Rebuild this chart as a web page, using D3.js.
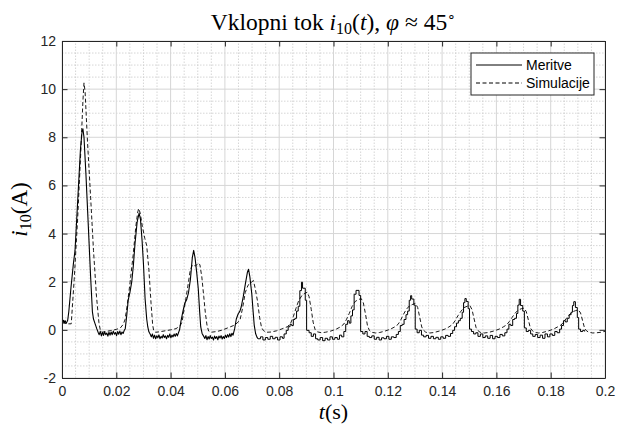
<!DOCTYPE html>
<html>
<head>
<meta charset="utf-8">
<script src="https://cdnjs.cloudflare.com/ajax/libs/d3/7.8.5/d3.min.js"></script>
<style>
  html, body { margin: 0; padding: 0; background: #fff; }
  svg { display: block; }
</style>
</head>
<body>
<script>
// tick positions and labels
const xTicks = [0, 0.02, 0.04, 0.06, 0.08, 0.1, 0.12, 0.14, 0.16, 0.18, 0.2];
const xTickLabels = ["0", "0.02", "0.04", "0.06", "0.08", "0.1", "0.12", "0.14", "0.16", "0.18", "0.2"];
const yTicks = [-2, 0, 2, 4, 6, 8, 10, 12];
const yTickLabels = ["-2", "0", "2", "4", "6", "8", "10", "12"];
const legendNames = ["Meritve", "Simulacije"];

// Meritve, first part (dense, noisy samples) [t, i]
const measA = [
  [0, 0.35], [0.0003, 0.28], [0.0006, 0.4], [0.0009, 0.3], [0.0012, 0.38], [0.0015, 0.27], [0.0018, 0.33], [0.0021, 0.4],
  [0.0025, 0.75], [0.0033, 1.75], [0.0042, 2.75], [0.0048, 3.3], [0.0058, 5.4], [0.0068, 7.5], [0.0074, 8.25], [0.0077, 8.35],
  [0.0081, 8.0], [0.0088, 6.5], [0.0097, 4.3], [0.0105, 2.3], [0.0112, 0.75], [0.0116, 0.45], [0.0122, 0.25], [0.0128, 0.05], [0.0133, -0.1],
  [0.0137, -0.2], [0.0141, -0.06], [0.0145, -0.25], [0.0149, -0.1], [0.0153, -0.23], [0.0157, -0.08], [0.0161, -0.2], [0.0165, -0.13],
  [0.0169, -0.26], [0.0173, -0.1], [0.0177, -0.22], [0.0181, -0.09], [0.0185, -0.2], [0.0189, -0.05], [0.0193, -0.18], [0.0197, -0.11],
  [0.0201, -0.24], [0.0205, -0.07], [0.0209, -0.18], [0.0213, -0.05], [0.0217, -0.2], [0.0221, -0.09], [0.0225, -0.15], [0.0229, -0.03],
  [0.0233, 0.05], [0.0238, 0.55], [0.0244, 1.25], [0.025, 1.55], [0.0257, 2.0], [0.0263, 2.7], [0.0269, 3.6], [0.0277, 4.5], [0.0284, 4.85],
  [0.0289, 4.6], [0.0295, 3.7], [0.03, 2.75], [0.0306, 1.3], [0.0312, 0.45], [0.0316, 0.12], [0.032, -0.08], [0.0325, -0.18],
  [0.0329, -0.29], [0.0333, -0.17], [0.0337, -0.35], [0.0341, -0.22], [0.0345, -0.37], [0.0349, -0.25], [0.0353, -0.33], [0.0357, -0.21],
  [0.0361, -0.37], [0.0365, -0.27], [0.0369, -0.34], [0.0373, -0.2], [0.0377, -0.32], [0.0381, -0.25], [0.0385, -0.37], [0.0389, -0.23],
  [0.0393, -0.31], [0.0397, -0.17], [0.0401, -0.33], [0.0405, -0.22], [0.0409, -0.29], [0.0413, -0.17], [0.0417, -0.27], [0.0421, -0.15],
  [0.0425, -0.25], [0.0429, -0.12],
  [0.0433, 0.0], [0.0438, 0.35], [0.0445, 0.75], [0.0452, 1.1], [0.0459, 1.25], [0.0466, 1.55], [0.0473, 2.1], [0.048, 3.0], [0.0485, 3.3],
  [0.049, 3.0], [0.0496, 2.4], [0.0502, 1.7], [0.0507, 0.75], [0.0511, 0.12], [0.0516, -0.15], [0.0522, -0.27],
  [0.0526, -0.36], [0.053, -0.24], [0.0534, -0.41], [0.0538, -0.28], [0.0542, -0.38], [0.0546, -0.24], [0.055, -0.36], [0.0554, -0.3],
  [0.0558, -0.42], [0.0562, -0.26], [0.0566, -0.36], [0.057, -0.28], [0.0574, -0.41], [0.0578, -0.26], [0.0582, -0.34], [0.0586, -0.24],
  [0.059, -0.38], [0.0594, -0.28], [0.0598, -0.36], [0.0602, -0.22], [0.0606, -0.32], [0.061, -0.2], [0.0614, -0.3], [0.0618, -0.16],
  [0.0622, -0.28], [0.0626, -0.14], [0.063, -0.22],
  [0.0636, 0.05], [0.0642, 0.45], [0.0649, 0.67], [0.0655, 0.77], [0.066, 0.95], [0.0668, 1.4], [0.0676, 1.95], [0.0683, 2.4], [0.0687, 2.52],
  [0.0692, 2.2], [0.0699, 1.5], [0.0704, 0.75], [0.0708, 0.2], [0.0713, -0.15], [0.0718, -0.3], [0.0722, -0.37]
];

// Meritve, second part (coarser, staircase samples) [t, i]
const measB = [
  [0.0722, -0.37], [0.0731, -0.29], [0.074, -0.42], [0.0749, -0.32], [0.0758, -0.39], [0.0767, -0.27], [0.0776, -0.37], [0.0785, -0.31],
  [0.0794, -0.42], [0.0803, -0.29], [0.0812, -0.35],
  [0.0818, -0.17], [0.0826, -0.02], [0.0833, 0.13], [0.084, 0.23], [0.0846, 0.18], [0.0852, 0.43], [0.0858, 0.48], [0.0864, 0.78],
  [0.087, 0.98], [0.0876, 1.63], [0.0882, 1.98], [0.0886, 1.73], [0.0896, 1.23], [0.0901, -0.02], [0.091, -0.12], [0.0918, -0.27],
  [0.0926, -0.17], [0.0934, -0.37],
  [0.0942, -0.42], [0.0951, -0.32], [0.096, -0.45], [0.0969, -0.35], [0.0978, -0.42], [0.0987, -0.29], [0.0996, -0.39], [0.1005, -0.32],
  [0.1014, -0.39], [0.1022, -0.22], [0.103, -0.29],
  [0.1038, -0.07], [0.1045, 0.23], [0.1052, 0.38], [0.1058, 0.28], [0.1064, 0.58], [0.107, 0.83], [0.1076, 1.48], [0.1083, 1.64],
  [0.1094, 1.43], [0.11, -0.07], [0.1108, -0.17], [0.1116, -0.07], [0.1124, -0.27],
  [0.1132, -0.32], [0.1141, -0.25], [0.115, -0.39], [0.1159, -0.31], [0.1168, -0.42], [0.1177, -0.33], [0.1186, -0.37], [0.1195, -0.27],
  [0.1204, -0.39], [0.1213, -0.29], [0.1222, -0.32], [0.1231, -0.19],
  [0.1239, -0.07], [0.1246, 0.18], [0.1253, 0.23], [0.126, 0.43], [0.1267, 0.63], [0.1273, 0.78], [0.1279, 1.23], [0.1284, 1.42],
  [0.1288, 1.28], [0.1296, 1.03], [0.1301, 0.03], [0.1308, -0.12], [0.1316, -0.02], [0.1324, -0.22],
  [0.1332, -0.29], [0.1341, -0.23], [0.135, -0.35], [0.1359, -0.27], [0.1368, -0.37], [0.1377, -0.31], [0.1386, -0.39], [0.1395, -0.29],
  [0.1404, -0.35], [0.1413, -0.23], [0.1422, -0.27], [0.1431, -0.15],
  [0.1439, -0.02], [0.1446, 0.13], [0.1453, 0.28], [0.146, 0.38], [0.1467, 0.48], [0.1474, 0.73], [0.1479, 1.13], [0.1484, 1.3],
  [0.1489, 1.18], [0.1496, 0.88], [0.1501, 0.03], [0.1508, -0.07], [0.1516, -0.17], [0.1524, -0.12],
  [0.1532, -0.27], [0.1541, -0.17], [0.155, -0.32], [0.1559, -0.25], [0.1568, -0.35], [0.1577, -0.23], [0.1586, -0.37], [0.1595, -0.27],
  [0.1604, -0.32], [0.1613, -0.19], [0.1622, -0.25], [0.1631, -0.12],
  [0.1639, 0.03], [0.1646, 0.23], [0.1653, 0.18], [0.166, 0.43], [0.1667, 0.48], [0.1674, 0.68], [0.1679, 1.03], [0.1684, 1.27],
  [0.1689, 1.01], [0.1697, 0.78], [0.1703, 0.08], [0.171, -0.07], [0.1718, -0.02], [0.1726, -0.17],
  [0.1734, -0.27], [0.1743, -0.19], [0.1752, -0.32], [0.1761, -0.22], [0.177, -0.35], [0.1779, -0.17], [0.1788, -0.29], [0.1797, -0.17],
  [0.1806, -0.23], [0.1815, -0.07], [0.1824, -0.12], [0.1833, 0.03],
  [0.184, 0.18], [0.1847, 0.38], [0.1854, 0.33], [0.1861, 0.48], [0.1868, 0.63], [0.1875, 0.73], [0.188, 1.01], [0.1885, 1.17],
  [0.1891, 0.93], [0.1898, 0.51], [0.1903, 0.03], [0.191, -0.07], [0.1918, -0.02], [0.1925, -0.07]
];

// Simulacije [t, i]
const sim = [
  [0, 0.3], [0.002, 0.25], [0.0034, 0.25], [0.0045, 2.1], [0.0058, 4.7], [0.007, 7.6], [0.0077, 9.5], [0.0081, 10.26], [0.0085, 9.9],
  [0.0094, 7.8], [0.0105, 5.6], [0.0116, 3.3], [0.0127, 1.4], [0.0136, 0.3], [0.0141, 0.0], [0.0148, -0.1], [0.016, -0.07], [0.018, -0.03],
  [0.02, 0.02], [0.0215, 0.08], [0.0225, 0.22], [0.0232, 0.42], [0.024, 1.0], [0.025, 1.9], [0.0262, 3.1], [0.0272, 4.3], [0.0279, 4.9],
  [0.0283, 5.04], [0.0288, 4.85], [0.0296, 4.3], [0.0305, 3.8], [0.0312, 3.5], [0.032, 2.5], [0.0328, 1.1], [0.0334, 0.2], [0.0338, -0.05],
  [0.0345, -0.1], [0.036, -0.08], [0.038, -0.04], [0.04, 0.0], [0.042, 0.05], [0.0435, 0.17], [0.0442, 0.32], [0.0452, 1.0], [0.0462, 1.7],
  [0.0472, 2.45], [0.048, 2.7], [0.0492, 2.65], [0.0502, 2.78], [0.0508, 2.7], [0.0515, 2.2], [0.0522, 1.4], [0.0528, 0.7], [0.0534, 0.2],
  [0.054, -0.05], [0.0548, -0.1], [0.057, -0.07], [0.059, -0.01], [0.061, 0.08], [0.0632, 0.18], [0.0645, 0.28], [0.0656, 0.42],
  [0.0665, 0.9], [0.0675, 1.55], [0.0685, 1.85], [0.0695, 1.95], [0.0705, 2.05], [0.0712, 1.7], [0.072, 1.2], [0.0728, 0.5], [0.0735, 0.1],
  [0.0742, -0.03], [0.0752, -0.1], [0.077, -0.09], [0.079, -0.04], [0.081, 0.04], [0.083, 0.13],
  [0.0842, 0.27], [0.0852, 0.55], [0.0862, 0.9], [0.0872, 1.22], [0.0885, 1.45], [0.0897, 1.53], [0.0903, 1.57], [0.091, 1.38],
  [0.0918, 0.85], [0.0925, 0.32], [0.0932, 0.02], [0.094, -0.08], [0.0955, -0.12], [0.097, -0.1], [0.099, -0.05], [0.101, 0.03], [0.1025, 0.12],
  [0.1038, 0.24], [0.1048, 0.44], [0.1058, 0.68], [0.1068, 0.96], [0.108, 1.18], [0.1092, 1.26], [0.1102, 1.3], [0.111, 1.12],
  [0.1118, 0.65], [0.1125, 0.18], [0.1132, -0.02], [0.114, -0.1], [0.1155, -0.13], [0.117, -0.11], [0.119, -0.05], [0.121, 0.03], [0.1225, 0.12],
  [0.1238, 0.23], [0.1248, 0.42], [0.1258, 0.65], [0.1268, 0.85], [0.128, 1.0], [0.1292, 1.06], [0.1302, 1.1], [0.131, 0.93],
  [0.1318, 0.5], [0.1325, 0.12], [0.1332, -0.02], [0.134, -0.1], [0.1355, -0.13], [0.137, -0.11], [0.139, -0.05], [0.141, 0.03], [0.1425, 0.12],
  [0.1438, 0.22], [0.1448, 0.38], [0.1458, 0.58], [0.1468, 0.75], [0.148, 0.92], [0.1492, 0.98], [0.1502, 1.01], [0.151, 0.85],
  [0.1518, 0.45], [0.1525, 0.1], [0.1532, -0.03], [0.154, -0.1], [0.1555, -0.13], [0.157, -0.11], [0.159, -0.05], [0.161, 0.03], [0.1625, 0.12],
  [0.1638, 0.21], [0.1648, 0.35], [0.1658, 0.52], [0.1668, 0.68], [0.168, 0.82], [0.1692, 0.88], [0.1702, 0.9], [0.171, 0.76],
  [0.1718, 0.4], [0.1725, 0.08], [0.1732, -0.03], [0.174, -0.1], [0.1755, -0.13], [0.177, -0.11], [0.179, -0.05], [0.181, 0.03], [0.1825, 0.12],
  [0.1838, 0.2], [0.1848, 0.33], [0.1858, 0.48], [0.1868, 0.62], [0.188, 0.75], [0.1892, 0.8], [0.1902, 0.83], [0.191, 0.7],
  [0.1918, 0.36], [0.1925, 0.06], [0.1932, -0.04], [0.194, -0.1], [0.1955, -0.13], [0.197, -0.12], [0.1985, -0.1], [0.2, -0.06]
];

// layout
const W = 617, H = 424;
const margin = { left: 62, right: 12, top: 41, bottom: 46 };
const axisColor = '#262626';
const tickFont = "'Liberation Sans', Arial, sans-serif";
const texFont = "'Liberation Serif', 'Times New Roman', serif";

const svg = d3.select('body').append('svg')
  .attr('width', W)
  .attr('height', H);

const x = d3.scaleLinear().domain([0, 0.2]).range([margin.left, W - margin.right]);
const y = d3.scaleLinear().domain([-2, 12]).range([H - margin.bottom, margin.top]);

// minor grid (dotted) then major grid (solid)
const xMinor = d3.range(0, 0.2001, 0.005).filter(v => Math.abs(v / 0.02 - Math.round(v / 0.02)) > 1e-6);
const yMinor = d3.range(-2, 12.001, 0.5).filter(v => Math.abs(v / 2 - Math.round(v / 2)) > 1e-6);

const grid = svg.append('g').attr('class', 'grid');
grid.selectAll('line.xmin').data(xMinor).enter().append('line')
  .attr('x1', d => x(d)).attr('x2', d => x(d))
  .attr('y1', y(-2)).attr('y2', y(12))
  .attr('stroke', '#cccccc').attr('stroke-width', 0.8).attr('stroke-dasharray', '1.5,1.5');
grid.selectAll('line.ymin').data(yMinor).enter().append('line')
  .attr('y1', d => y(d)).attr('y2', d => y(d))
  .attr('x1', x(0)).attr('x2', x(0.2))
  .attr('stroke', '#cccccc').attr('stroke-width', 0.8).attr('stroke-dasharray', '1.5,1.5');
grid.selectAll('line.xmaj').data(xTicks).enter().append('line')
  .attr('x1', d => x(d)).attr('x2', d => x(d))
  .attr('y1', y(-2)).attr('y2', y(12))
  .attr('stroke', '#d6d6d6').attr('stroke-width', 1);
grid.selectAll('line.ymaj').data(yTicks).enter().append('line')
  .attr('y1', d => y(d)).attr('y2', d => y(d))
  .attr('x1', x(0)).attr('x2', x(0.2))
  .attr('stroke', '#d6d6d6').attr('stroke-width', 1);

// clip for the curves
svg.append('defs').append('clipPath').attr('id', 'plotclip')
  .append('rect')
  .attr('x', x(0)).attr('y', y(12))
  .attr('width', x(0.2) - x(0)).attr('height', y(-2) - y(12));

const plot = svg.append('g').attr('clip-path', 'url(#plotclip)');

const lineLin = d3.line().x(d => x(d[0])).y(d => y(d[1]));
const lineStep = d3.line().x(d => x(d[0])).y(d => y(d[1])).curve(d3.curveStepAfter);

// Simulacije, dashed
plot.append('path')
  .attr('d', lineLin(sim))
  .attr('fill', 'none')
  .attr('stroke', '#000')
  .attr('stroke-width', 0.9)
  .attr('stroke-dasharray', '4,2.5');

// Meritve, solid
plot.append('path')
  .attr('d', lineLin(measA))
  .attr('fill', 'none')
  .attr('stroke', '#000')
  .attr('stroke-width', 1.1)
  .attr('stroke-linejoin', 'round');
plot.append('path')
  .attr('d', lineStep(measB))
  .attr('fill', 'none')
  .attr('stroke', '#000')
  .attr('stroke-width', 1);

// axes: ticks inward on all four sides
const tl = 5.5;
const axes = svg.append('g').attr('class', 'axes');
const axBottom = axes.append('g').attr('transform', `translate(0,${y(-2)})`)
  .call(d3.axisBottom(x).tickValues(xTicks).tickSizeInner(-tl).tickSizeOuter(0)
    .tickFormat((d, i) => xTickLabels[i]));
axes.append('g').attr('transform', `translate(0,${y(12)})`)
  .call(d3.axisTop(x).tickValues(xTicks).tickSizeInner(-tl).tickSizeOuter(0).tickFormat(''));
const axLeft = axes.append('g').attr('transform', `translate(${x(0)},0)`)
  .call(d3.axisLeft(y).tickValues(yTicks).tickSizeInner(-tl).tickSizeOuter(0)
    .tickFormat((d, i) => yTickLabels[i]));
axes.append('g').attr('transform', `translate(${x(0.2)},0)`)
  .call(d3.axisRight(y).tickValues(yTicks).tickSizeInner(-tl).tickSizeOuter(0).tickFormat(''));

axes.selectAll('.domain').attr('stroke', axisColor).attr('stroke-width', 1);
axes.selectAll('.tick line').attr('stroke', axisColor).attr('stroke-width', 1);
axes.selectAll('.tick text')
  .attr('fill', axisColor)
  .style('font-family', tickFont)
  .style('font-size', '14px');
axBottom.selectAll('.tick text').attr('y', 8);
axLeft.selectAll('.tick text').attr('x', -6);

// title: Vklopni tok i_10(t), φ ≈ 45°
const title = svg.append('text')
  .attr('x', (x(0) + x(0.2)) / 2)
  .attr('y', 30)
  .attr('text-anchor', 'middle')
  .style('font-family', texFont)
  .style('font-size', '23.5px')
  .attr('fill', '#000');
title.append('tspan').text('Vklopni tok ');
title.append('tspan').style('font-style', 'italic').text('i');
title.append('tspan').attr('dy', 4).style('font-size', '16px').text('10');
title.append('tspan').attr('dy', -4).text('(');
title.append('tspan').style('font-style', 'italic').text('t');
title.append('tspan').text('), ');
title.append('tspan').style('font-style', 'italic').text('φ');
title.append('tspan').text(' ≈ 45');
title.append('tspan').attr('dy', -9).style('font-size', '14px').text('∘');

// y label: i_10(A)
const ylab = svg.append('text')
  .attr('transform', `translate(27,${(y(-2) + y(12)) / 2}) rotate(-90)`)
  .attr('text-anchor', 'middle')
  .style('font-family', texFont)
  .style('font-size', '23px')
  .attr('fill', '#000');
ylab.append('tspan').style('font-style', 'italic').text('i');
ylab.append('tspan').attr('dy', 4).style('font-size', '16px').text('10');
ylab.append('tspan').attr('dy', -4).text('(A)');

// x label: t(s)
const xlab = svg.append('text')
  .attr('x', (x(0) + x(0.2)) / 2)
  .attr('y', 419)
  .attr('text-anchor', 'middle')
  .style('font-family', texFont)
  .style('font-size', '22px')
  .attr('fill', '#000');
xlab.append('tspan').style('font-style', 'italic').text('t');
xlab.append('tspan').text('(s)');

// legend
const lg = svg.append('g').attr('transform', 'translate(471,53)');
lg.append('rect')
  .attr('width', 123).attr('height', 42)
  .attr('fill', '#fff')
  .attr('stroke', axisColor).attr('stroke-width', 1);
const dashes = [null, '4,2.5'];
legendNames.forEach(function(name, i) {
  const yy = 12 + i * 18;
  lg.append('line')
    .attr('x1', 5).attr('x2', 51)
    .attr('y1', yy).attr('y2', yy)
    .attr('stroke', '#000').attr('stroke-width', 1)
    .attr('stroke-dasharray', dashes[i]);
  lg.append('text')
    .attr('x', 55).attr('y', yy + 5)
    .style('font-family', tickFont)
    .style('font-size', '14px')
    .attr('fill', '#000')
    .text(name);
});
</script>
</body>
</html>
